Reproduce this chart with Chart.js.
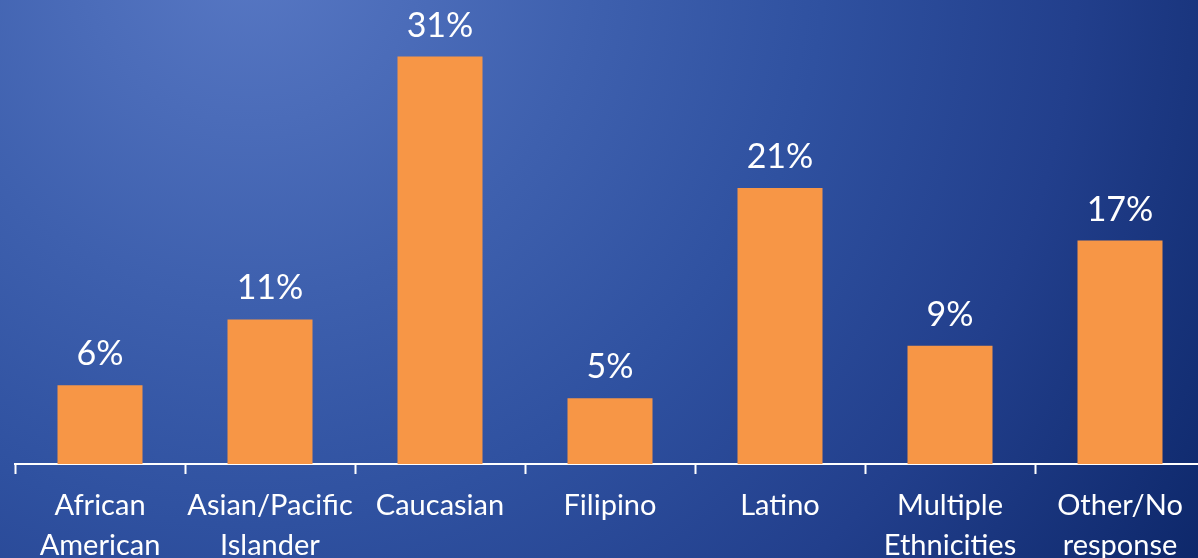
<!DOCTYPE html>
<html>
<head>
<meta charset="utf-8">
<script src="https://cdn.jsdelivr.net/npm/chart.js@4.4.1/dist/chart.umd.min.js"></script>
<style>
  html, body { margin: 0; padding: 0; overflow: hidden; }
  #wrap {
    width: 1198px; height: 558px; overflow: hidden; position: relative;
    background: radial-gradient(circle 1150px at 250px -50px, #5878c4 0%, #3e60ae 30%, #2f51a0 50%, #223f8c 72%, #0c2668 100%);
  }
  #box { position: absolute; left: 0; top: 0; width: 1220px; height: 600px; }
</style>
</head>
<body>
<div id="wrap"><div id="box"><canvas id="grafico"></canvas></div></div>
<script>
const categorias = [
    ['African', 'American'],
    ['Asian/Pacific', 'Islander'],
    'Caucasian',
    'Filipino',
    'Latino',
    ['Multiple', 'Ethnicities'],
    ['Other/No', 'response']
];
const porcentajes = [6, 11, 31, 5, 21, 9, 17];

// etiquetas de valor encima de cada barra
const etiquetas = {
    id: 'etiquetas',
    afterDatasetsDraw(chart) {
        const ctx = chart.ctx;
        const meta = chart.getDatasetMeta(0);
        ctx.save();
        ctx.fillStyle = '#ffffff';
        ctx.font = '34px Lato';
        ctx.textAlign = 'center';
        ctx.textBaseline = 'alphabetic';
        meta.data.forEach((bar, i) => {
            ctx.fillText(porcentajes[i] + '%', bar.x, bar.y - 20);
        });
        ctx.restore();
    }
};

new Chart(document.getElementById('grafico').getContext('2d'), {
    type: 'bar',
    data: {
        labels: categorias,
        datasets: [{
            data: porcentajes,
            backgroundColor: '#f79646',
            barPercentage: 0.5,
            categoryPercentage: 1
        }]
    },
    options: {
        responsive: true,
        maintainAspectRatio: false,
        animation: false,
        layout: { padding: { left: 15, right: 15, top: 4, bottom: 0 } },
        plugins: {
            legend: { display: false },
            tooltip: { enabled: false }
        },
        scales: {
            x: {
                afterFit: (s) => { s.height = 136; },
                grid: {
                    display: true,
                    drawOnChartArea: false,
                    drawTicks: true,
                    tickLength: 10,
                    tickWidth: 2,
                    color: '#ffffff'
                },
                border: { display: true, color: '#ffffff', width: 2 },
                ticks: {
                    color: '#ffffff',
                    padding: 12,
                    maxRotation: 0,
                    autoSkip: false,
                    font: { family: 'Lato', size: 29, lineHeight: '40px' }
                }
            },
            y: {
                display: false,
                min: 0,
                max: 35
            }
        }
    },
    plugins: [etiquetas]
});
</script>
</body>
</html>
